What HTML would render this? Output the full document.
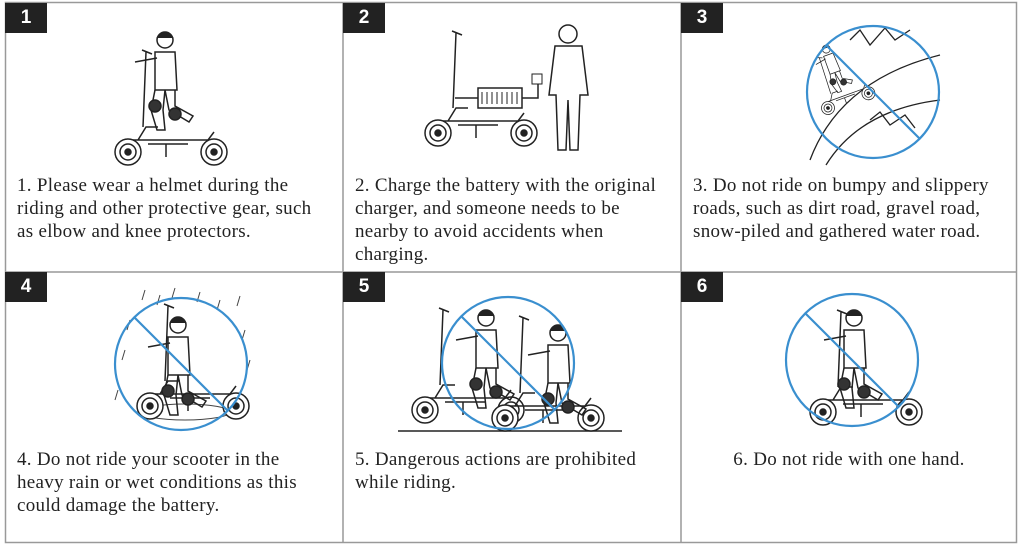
<!DOCTYPE html>
<html><head><meta charset="utf-8"><style>
body{margin:0;width:1020px;height:546px;background:#fff;position:relative;overflow:hidden;font-family:"Liberation Serif",serif;color:#222}
.b{position:absolute;background:#222;color:#fff;font-family:"Liberation Sans",sans-serif;font-weight:bold;font-size:19px;width:42px;height:30px;line-height:30px;text-align:center}
.t{position:absolute;font-size:19px;letter-spacing:0.3px;line-height:23px;white-space:nowrap}
svg{position:absolute;left:0;top:0}
</style></head><body>
<svg width="1020" height="546" viewBox="0 0 1020 546">
<defs>
<g id="sc" fill="none" stroke="#222" stroke-width="1.5">
<circle cx="0" cy="0" r="13" fill="#fff"/><circle cx="0" cy="0" r="8"/><circle cx="0" cy="0" r="3" fill="#222"/>
<circle cx="86" cy="0" r="13" fill="#fff"/><circle cx="86" cy="0" r="8"/><circle cx="86" cy="0" r="3" fill="#222"/>
<path d="M5 -12 L80 -12 L86 -20 M10 -12 L18 -25 L30 -25 M20 -8 L60 -8"/>
<path d="M15 -25 L18 -100 M14 -102 L24 -98"/>
<path d="M38 -8 L38 5"/>
</g>
<g id="rider" fill="none" stroke="#222" stroke-width="1.5">
<circle cx="0" cy="0" r="8" fill="#fff"/><path d="M-8 -2 Q0 -12 8 -2" fill="#222"/>
<path d="M-10 12 L10 12 L12 50 L-10 50 Z" fill="#fff"/>
<path d="M-10 50 L-14 70 L-8 90 L0 90 L-2 70 L0 50 M0 50 L4 70 L24 82 L28 76 L10 66 L10 50"/>
<circle cx="-10" cy="66" r="6" fill="#333"/><circle cx="10" cy="74" r="6" fill="#333"/>
<path d="M-8 18 L-30 22"/>
</g>
</defs>
<g fill="none" stroke="#999" stroke-width="1.5">
<rect x="5.5" y="2.5" width="1011" height="540"/>
<line x1="343" y1="2" x2="343" y2="543"/>
<line x1="681" y1="2" x2="681" y2="543"/>
<line x1="5" y1="272" x2="1017" y2="272"/>
</g>
<!-- 1 -->
<use href="#sc" x="128" y="152"/><use href="#rider" x="165" y="40"/>
<!-- 2 -->
<use href="#sc" x="438" y="133"/>
<rect x="478" y="88" width="44" height="20" fill="#fff" stroke="#222" stroke-width="1.5"/>
<path d="M482 92v12M487 92v12M492 92v12M497 92v12M502 92v12M507 92v12M512 92v12M517 92v12" stroke="#222"/>
<path d="M455 98 H478 M522 98 H538 V82" fill="none" stroke="#222" stroke-width="1.5"/>
<rect x="532" y="74" width="10" height="10" fill="#fff" stroke="#222"/>
<g fill="none" stroke="#222" stroke-width="1.5">
<circle cx="568" cy="34" r="9"/><path d="M555 46 L582 46 L588 95 L580 95 L578 150 L570 150 L568 100 L566 150 L558 150 L556 95 L549 95 Z"/>
</g>
<!-- 3 -->
<g fill="none" stroke="#222" stroke-width="1.3">
<path d="M810 160 Q840 80 940 55 M826 165 Q860 110 940 100 M850 40 L860 30 L870 45 L885 28 L895 40 L910 30 M870 120 L880 112 L890 125 L905 115 L915 128"/>
</g>
<g transform="translate(828,108) scale(0.5) rotate(-20)"><use href="#sc" x="0" y="0"/><use href="#rider" x="37" y="-112"/></g>
<circle cx="873" cy="92" r="66" fill="none" stroke="#3a8fcf" stroke-width="2.2"/>
<line x1="826" y1="45" x2="920" y2="139" stroke="#3a8fcf" stroke-width="2.2"/>
<!-- 4 -->
<g stroke="#444" stroke-width="1">
<path d="M145 290l-3 10M160 295l-3 10M175 288l-3 10M200 292l-3 10M220 300l-3 10M240 296l-3 10M130 320l-3 10M125 350l-3 10M245 330l-3 10M250 360l-3 10M118 390l-3 10M240 395l-3 10"/>
</g>
<ellipse cx="185" cy="412" rx="45" ry="8" fill="none" stroke="#444"/>
<use href="#sc" x="150" y="406"/><use href="#rider" x="178" y="325"/>
<circle cx="181" cy="364" r="66" fill="none" stroke="#3a8fcf" stroke-width="2.2"/>
<line x1="134" y1="317" x2="228" y2="411" stroke="#3a8fcf" stroke-width="2.2"/>
<!-- 5 -->
<line x1="398" y1="431" x2="622" y2="431" stroke="#222" stroke-width="1.5"/>
<use href="#sc" x="425" y="410"/><use href="#rider" x="486" y="318"/>
<use href="#sc" x="505" y="418"/><use href="#rider" x="558" y="333"/>
<circle cx="508" cy="363" r="66" fill="none" stroke="#3a8fcf" stroke-width="2.2"/>
<line x1="461" y1="316" x2="555" y2="410" stroke="#3a8fcf" stroke-width="2.2"/>
<!-- 6 -->
<use href="#sc" x="823" y="412"/><use href="#rider" x="854" y="318"/>
<circle cx="852" cy="360" r="66" fill="none" stroke="#3a8fcf" stroke-width="2.2"/>
<line x1="805" y1="313" x2="899" y2="407" stroke="#3a8fcf" stroke-width="2.2"/>
</svg>
<div class="b" style="left:5px;top:3px">1</div>
<div class="b" style="left:343px;top:3px">2</div>
<div class="b" style="left:681px;top:3px">3</div>
<div class="b" style="left:5px;top:272px">4</div>
<div class="b" style="left:343px;top:272px">5</div>
<div class="b" style="left:681px;top:272px">6</div>
<div class="t" style="left:17px;top:174px">1. Please wear a helmet during the<br>riding and other protective gear, such<br>as elbow and knee protectors.</div>
<div class="t" style="left:355px;top:174px">2. Charge the battery with the original<br>charger, and someone needs to be<br>nearby to avoid accidents when<br>charging.</div>
<div class="t" style="left:693px;top:174px">3. Do not ride on bumpy and slippery<br>roads, such as dirt road, gravel road,<br>snow-piled and gathered water road.</div>
<div class="t" style="left:17px;top:448px">4. Do not ride your scooter in the<br>heavy rain or wet conditions as this<br>could damage the battery.</div>
<div class="t" style="left:355px;top:448px">5. Dangerous actions are prohibited<br>while riding.</div>
<div class="t" style="left:681px;top:448px;width:336px;text-align:center">6. Do not ride with one hand.</div>
</body></html>
